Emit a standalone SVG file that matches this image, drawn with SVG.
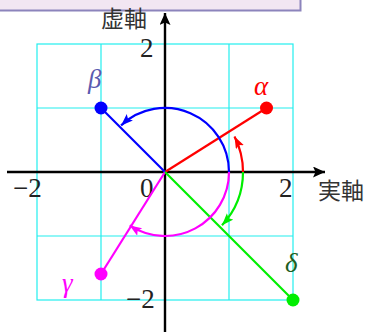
<svg xmlns="http://www.w3.org/2000/svg" width="370" height="332" viewBox="0 0 370 332">
<style>
.grid{fill:none;stroke:#22eeee;stroke-width:1.2}
.axis{stroke:#000;stroke-width:2.4;fill:none}
.num{font-family:"Liberation Serif","DejaVu Serif",serif;font-size:27px;fill:#222}
.jp{font-family:"Noto Sans CJK JP","Noto Sans",sans-serif;font-size:23px;fill:#333}
.gk{font-family:"Liberation Serif","DejaVu Serif",serif;font-style:italic;font-size:27px}
.ln{stroke-width:2.2;fill:none}
</style>
<defs>
<marker id="ak" markerUnits="userSpaceOnUse" markerWidth="14" markerHeight="12" refX="12" refY="5.5" orient="auto"><path d="M0,0 L12,5.5 L0,11 L2.5,5.5 z" fill="#000"/></marker>
<marker id="ab" markerUnits="userSpaceOnUse" markerWidth="14" markerHeight="12" refX="12" refY="4.5" orient="auto"><path d="M0,0 L12,4.5 L0,9 L2.5,4.5 z" fill="#0000ff"/></marker>
<marker id="am" markerUnits="userSpaceOnUse" markerWidth="14" markerHeight="12" refX="12" refY="4.5" orient="auto"><path d="M0,0 L12,4.5 L0,9 L2.5,4.5 z" fill="#ff00ff"/></marker>
<marker id="ar" markerUnits="userSpaceOnUse" markerWidth="14" markerHeight="12" refX="12" refY="4.5" orient="auto"><path d="M0,0 L12,4.5 L0,9 L2.5,4.5 z" fill="#ff0000"/></marker>
<marker id="ag" markerUnits="userSpaceOnUse" markerWidth="14" markerHeight="12" refX="12" refY="4.5" orient="auto"><path d="M0,0 L12,4.5 L0,9 L2.5,4.5 z" fill="#00ee00"/></marker>
</defs>
<rect x="-3" y="-12" width="303.5" height="22.5" fill="#f2e6f2" stroke="#8c84bc" stroke-width="2"/>
<g id="grid">
<rect class="grid" x="37" y="44" width="256" height="256"/>
<line class="grid" x1="101" y1="44" x2="101" y2="300"/>
<line class="grid" x1="229" y1="44" x2="229" y2="300"/>
<line class="grid" x1="37" y1="108" x2="293" y2="108"/>
<line class="grid" x1="37" y1="236" x2="293" y2="236"/>
</g>
<g id="axes">
<line class="axis" x1="7" y1="172" x2="325" y2="172" marker-end="url(#ak)"/>
<line class="axis" x1="165" y1="332" x2="165" y2="13" marker-end="url(#ak)"/>
<text class="jp" x="101" y="26.5">虚軸</text>
<text class="jp" x="318" y="198.5">実軸</text>
<text class="num" x="153.5" y="57" text-anchor="end">2</text>
<text class="num" x="153.5" y="197" text-anchor="end">0</text>
<text class="num" x="279" y="197">2</text>
<text class="num" x="13" y="197">−2</text>
<text class="num" x="126" y="308">−2</text>
</g>
<g id="connectors">
<line class="ln" stroke="#ff0000" x1="165" y1="172" x2="266.5" y2="108"/>
<line class="ln" stroke="#0000ff" x1="165" y1="172" x2="101" y2="108"/>
<line class="ln" stroke="#ff00ff" x1="165" y1="172" x2="101" y2="274"/>
<line class="ln" stroke="#00ee00" x1="165" y1="172" x2="293" y2="300"/>
<path class="ln" stroke="#ff00ff" d="M229,172 A64,64 0 0 1 129.7,225.4" marker-end="url(#am)"/>
<path class="ln" stroke="#0000ff" d="M229,172 A64,64 0 0 0 121.1,125.4" marker-end="url(#ab)"/>
<path class="ln" stroke="#ff0000" d="M243,172 A78,78 0 0 0 234.5,136.6" marker-end="url(#ar)"/>
<path class="ln" stroke="#00ee00" d="M243,172 A78,78 0 0 1 222,225.2" marker-end="url(#ag)"/>
</g>
<g id="alpha"><circle cx="266.5" cy="108" r="6.5" fill="#ff0000"/><text class="gk" x="254" y="95" fill="#ff0000">α</text></g>
<g id="beta"><circle cx="101" cy="108" r="6.5" fill="#0000ff"/><text class="gk" x="88" y="88" fill="#5a5ab0">β</text></g>
<g id="gamma"><circle cx="101" cy="274" r="6.5" fill="#ff00ff"/><text class="gk" x="62" y="292" fill="#ff00ff">γ</text></g>
<g id="delta"><circle cx="293" cy="300" r="6.5" fill="#00ee00"/><text class="gk" x="285" y="272" fill="#1f5f1f">δ</text></g>
</svg>
